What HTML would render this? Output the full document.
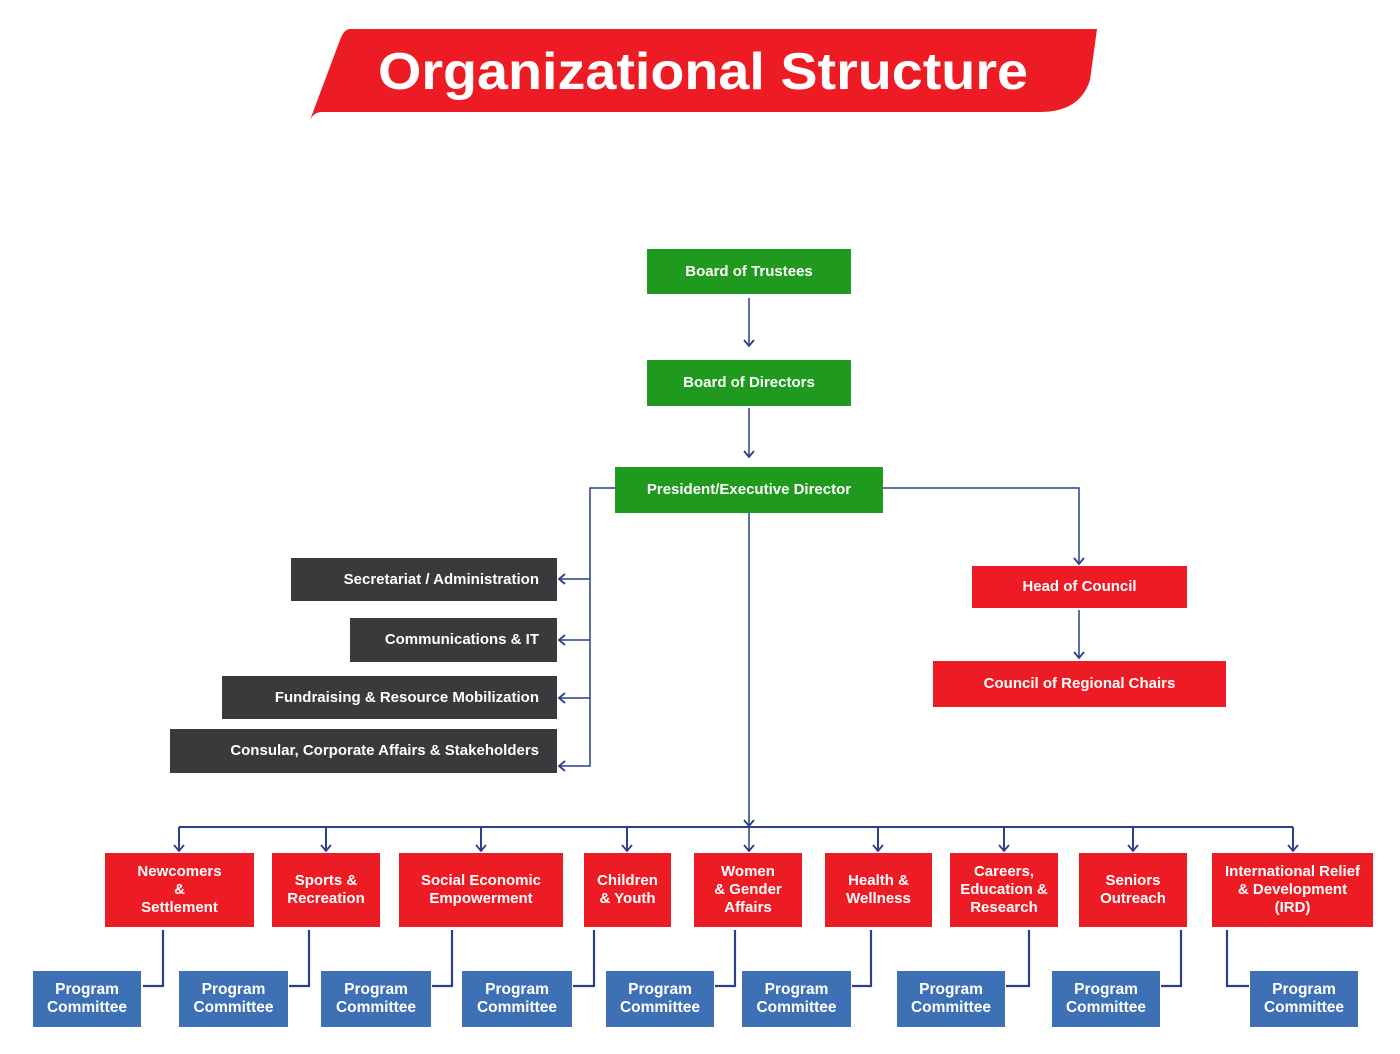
<!DOCTYPE html>
<html><head><meta charset="utf-8"><style>
body{margin:0;width:1400px;height:1054px;background:#fff;position:relative;overflow:hidden;font-family:"Liberation Sans",sans-serif}
.b{position:absolute;display:flex;align-items:center;justify-content:center;text-align:center;color:#fff;font-weight:bold;font-size:15px;line-height:18px;box-sizing:border-box}
.g{background:#1f9a1f}.r{background:#ed1c24}.d{background:#3a3a3c;justify-content:flex-end;padding-right:18px}.u{background:#3e70b6;font-size:15.5px}
svg{position:absolute;left:0;top:0}
</style></head><body>
<svg width="1400" height="1054">
<path d="M350 29 L1097 29 L1090 80 Q1080 112 1040 112 L322 112 Q314 112 310 120 L340 40 Q344 29 350 29Z" fill="#ed1c24"/>
<text x="378" y="89" fill="#fff" font-family="Liberation Sans" font-weight="bold" font-size="52" textLength="650" lengthAdjust="spacingAndGlyphs">Organizational Structure</text>
<g stroke="#2b3f8c" stroke-width="1.5" fill="none">
<path d="M749 298V345M749 408V456M749 513V851"/>
<path d="M615 488H590V766H559M590 579H559M590 640H559M590 698H559"/>
<path d="M883 488H1079V563M1079 610V657"/>
<path d="M179 827H1293M179 827V850M326 827V850M481 827V850M627 827V850M878 827V850M1004 827V850M1133 827V850M1293 827V850" stroke-width="2"/>
<g stroke-width="2.2"><path d="M163 930V986H143M309 930V986H289M452 930V986H432M594 930V986H573M735 930V986H715M871 930V986H852M1029 930V986H1006M1181 930V986H1161M1227 930V986H1249"/></g>
</g>
<g fill="none" stroke="#2b3f8c" stroke-width="1.8">
<path d="M744 340L749 346L754 340M744 451L749 457L754 451M744 820L749 826L754 820M1074 558L1079 564L1084 558M1074 652L1079 658L1084 652"/>
<path d="M565 574L559 579L565 584M565 635L559 640L565 645M565 693L559 698L565 703M565 761L559 766L565 771"/>
<path d="M174 845L179 851L184 845M321 845L326 851L331 845M476 845L481 851L486 845M622 845L627 851L632 845M744 845L749 851L754 845M873 845L878 851L883 845M999 845L1004 851L1009 845M1128 845L1133 851L1138 845M1288 845L1293 851L1298 845"/>
</g>
</svg>
<div class="b g" style="left:647px;top:249px;width:204px;height:45px">Board of Trustees</div>
<div class="b g" style="left:647px;top:360px;width:204px;height:46px">Board of Directors</div>
<div class="b g" style="left:615px;top:467px;width:268px;height:46px">President/Executive Director</div>
<div class="b d" style="left:291px;top:558px;width:266px;height:43px">Secretariat / Administration</div>
<div class="b d" style="left:350px;top:618px;width:207px;height:44px">Communications &amp; IT</div>
<div class="b d" style="left:222px;top:676px;width:335px;height:43px">Fundraising &amp; Resource Mobilization</div>
<div class="b d" style="left:170px;top:729px;width:387px;height:44px">Consular, Corporate Affairs &amp; Stakeholders</div>
<div class="b r" style="left:972px;top:566px;width:215px;height:42px">Head of Council</div>
<div class="b r" style="left:933px;top:661px;width:293px;height:46px">Council of Regional Chairs</div>
<div class="b r" style="left:105px;top:853px;width:149px;height:74px">Newcomers<br>&amp;<br>Settlement</div>
<div class="b r" style="left:272px;top:853px;width:108px;height:74px">Sports &amp;<br>Recreation</div>
<div class="b r" style="left:399px;top:853px;width:164px;height:74px">Social Economic<br>Empowerment</div>
<div class="b r" style="left:584px;top:853px;width:87px;height:74px">Children<br>&amp; Youth</div>
<div class="b r" style="left:694px;top:853px;width:108px;height:74px">Women<br>&amp; Gender<br>Affairs</div>
<div class="b r" style="left:825px;top:853px;width:107px;height:74px">Health &amp;<br>Wellness</div>
<div class="b r" style="left:950px;top:853px;width:108px;height:74px">Careers,<br>Education &amp;<br>Research</div>
<div class="b r" style="left:1079px;top:853px;width:108px;height:74px">Seniors<br>Outreach</div>
<div class="b r" style="left:1212px;top:853px;width:161px;height:74px">International Relief<br>&amp; Development<br>(IRD)</div>
<div class="b u" style="left:33px;top:971px;width:108px;height:56px">Program<br>Committee</div>
<div class="b u" style="left:179px;top:971px;width:109px;height:56px">Program<br>Committee</div>
<div class="b u" style="left:321px;top:971px;width:110px;height:56px">Program<br>Committee</div>
<div class="b u" style="left:462px;top:971px;width:110px;height:56px">Program<br>Committee</div>
<div class="b u" style="left:606px;top:971px;width:108px;height:56px">Program<br>Committee</div>
<div class="b u" style="left:742px;top:971px;width:109px;height:56px">Program<br>Committee</div>
<div class="b u" style="left:897px;top:971px;width:108px;height:56px">Program<br>Committee</div>
<div class="b u" style="left:1052px;top:971px;width:108px;height:56px">Program<br>Committee</div>
<div class="b u" style="left:1250px;top:971px;width:108px;height:56px">Program<br>Committee</div>
</body></html>
